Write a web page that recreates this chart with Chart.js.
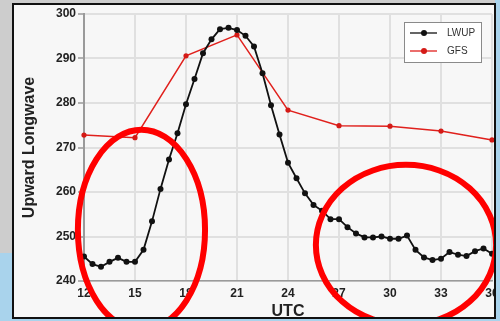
<!DOCTYPE html>
<html>
<head>
<meta charset="utf-8">
<script src="https://cdn.jsdelivr.net/npm/chart.js@4"></script>
<style>
  html, body { margin: 0; padding: 0; }
  body {
    width: 500px; height: 321px; overflow: hidden; position: relative;
    background: linear-gradient(to bottom, #cdcdcd 0, #cdcdcd 253px, #a9d3ec 253px);
  }
  #rightStrip { position: absolute; left: 495px; top: 0; width: 5px; height: 321px; background: #a9d3ec; }
  #frame {
    position: absolute; left: 12px; top: 3px; width: 484px; height: 316px;
    box-sizing: border-box; border: 2px solid #111; background: #f7f7f7; overflow: hidden;
  }
  #frame canvas { position: absolute; left: -14px; top: -5px; }
</style>
</head>
<body>
<div id="rightStrip"></div>
<div id="frame"><canvas id="lwCanvas" width="540" height="321"></canvas></div>
<script>
// Hours (UTC) for the observed series, every half hour
const lwupHours = [12, 12.5, 13, 13.5, 14, 14.5, 15, 15.5, 16, 16.5, 17, 17.5, 18, 18.5, 19, 19.5,
  20, 20.5, 21, 21.5, 22, 22.5, 23, 23.5, 24, 24.5, 25, 25.5, 26, 26.5, 27, 27.5, 28, 28.5,
  29, 29.5, 30, 30.5, 31, 31.5, 32, 32.5, 33, 33.5, 34, 34.5, 35, 35.5, 36];
const lwupValues = [245.5, 243.8, 243.2, 244.3, 245.2, 244.3, 244.3, 247.0, 253.4, 260.7, 267.3, 273.2,
  279.7, 285.4, 291.2, 294.3, 296.6, 296.9, 296.4, 295.1, 292.7, 286.7, 279.5, 272.9, 266.6, 263.1,
  259.7, 257.1, 255.8, 253.9, 253.9, 252.1, 250.7, 249.8, 249.8, 250.0, 249.5, 249.5, 250.2, 247.0,
  245.3, 244.7, 245.0, 246.5, 245.9, 245.6, 246.7, 247.3, 246.1];

// Model forecast, every 3 hours
const gfsHours = [12, 15, 18, 21, 24, 27, 30, 33, 36];
const gfsValues = [272.8, 272.2, 290.6, 295.3, 278.4, 274.9, 274.8, 273.7, 271.7];

const xTicks = [12, 15, 18, 21, 24, 27, 30, 33, 36];
const yTicks = [240, 250, 260, 270, 280, 290, 300];

// red circles drawn over the chart (centre and radii in data units)
const circles = [
  { x: 15.38, y: 251.5, rx: 3.74, ry: 22.5 },
  { x: 30.94, y: 248.1, rx: 5.3, ry: 18 }
];

const FONT = "'Liberation Sans', Arial, sans-serif";

const toPoints = (xs, ys) => xs.map((x, i) => ({ x: x, y: ys[i] }));

const boxLegend = {
  id: 'boxLegend',
  afterDatasetsDraw(chart) {
    const ctx = chart.ctx;
    const a = chart.chartArea;
    const bx = a.right - 88, by = a.top + 8;
    ctx.save();
    ctx.fillStyle = '#ffffff';
    ctx.strokeStyle = '#8a8a8a';
    ctx.lineWidth = 1;
    ctx.fillRect(bx, by, 77, 40);
    ctx.strokeRect(bx + 0.5, by + 0.5, 77, 40);
    chart.data.datasets.forEach((ds, i) => {
      const y = by + 11 + i * 18;
      ctx.strokeStyle = ds.borderColor;
      ctx.lineWidth = 1.3;
      ctx.beginPath();
      ctx.moveTo(bx + 6, y);
      ctx.lineTo(bx + 33, y);
      ctx.stroke();
      ctx.fillStyle = ds.pointBackgroundColor;
      ctx.beginPath();
      ctx.arc(bx + 20, y, 3, 0, Math.PI * 2);
      ctx.fill();
      ctx.fillStyle = '#333';
      ctx.font = '10px ' + FONT;
      ctx.textBaseline = 'middle';
      ctx.fillText(ds.label, bx + 43, y + 0.5);
    });
    ctx.restore();
  }
};

const redCircles = {
  id: 'redCircles',
  afterDraw(chart) {
    const ctx = chart.ctx;
    const xs = chart.scales.x, ys = chart.scales.y;
    ctx.save();
    ctx.strokeStyle = '#ff0000';
    ctx.lineWidth = 6;
    circles.forEach(c => {
      const cx = xs.getPixelForValue(c.x);
      const cy = ys.getPixelForValue(c.y);
      const rx = xs.getPixelForValue(c.x + c.rx) - cx;
      const ry = cy - ys.getPixelForValue(c.y + c.ry);
      ctx.beginPath();
      ctx.ellipse(cx, cy, rx, ry, 0, 0, Math.PI * 2);
      ctx.stroke();
    });
    ctx.restore();
  }
};

new Chart(document.getElementById('lwCanvas'), {
  type: 'line',
  data: {
    datasets: [
      {
        label: 'LWUP',
        data: toPoints(lwupHours, lwupValues),
        borderColor: '#111111',
        backgroundColor: '#111111',
        pointBackgroundColor: '#111111',
        pointBorderColor: '#111111',
        borderWidth: 1.8,
        pointRadius: 3,
        pointBorderWidth: 0,
        tension: 0,
        clip: false
      },
      {
        label: 'GFS',
        data: toPoints(gfsHours, gfsValues),
        borderColor: '#e0201c',
        backgroundColor: '#d41a16',
        pointBackgroundColor: '#d41a16',
        pointBorderColor: '#d41a16',
        borderWidth: 1.5,
        pointRadius: 2.6,
        pointBorderWidth: 0,
        tension: 0,
        clip: false
      }
    ]
  },
  options: {
    responsive: false,
    animation: false,
    layout: { padding: { left: 20, top: 14, right: 48, bottom: 0 } },
    plugins: { legend: { display: false }, tooltip: { enabled: false } },
    scales: {
      x: {
        type: 'linear',
        min: 12,
        max: 36,
        afterBuildTicks: s => { s.ticks = xTicks.map(v => ({ value: v })); },
        afterFit: s => { s.height = 40; },
        ticks: { color: '#222', padding: 5, font: { family: FONT, size: 12, weight: 'bold' } },
        grid: { color: '#e0e0e0', lineWidth: 2, drawTicks: false },
        border: { color: '#9a9a9a', width: 1.5 },
        title: { display: true, text: 'UTC', color: '#222', padding: 0, font: { family: FONT, size: 16, weight: 'bold' } }
      },
      y: {
        min: 240,
        max: 300,
        afterBuildTicks: s => { s.ticks = yTicks.map(v => ({ value: v })); },
        afterFit: s => { s.width = 64; },
        ticks: { color: '#222', padding: 2, font: { family: FONT, size: 12, weight: 'bold' } },
        grid: { color: '#e0e0e0', lineWidth: 2, tickLength: 6, tickColor: '#9a9a9a', tickWidth: 1.5 },
        border: { color: '#9a9a9a', width: 2 },
        title: { display: true, text: 'Upward Longwave', color: '#222', padding: 0, font: { family: FONT, size: 16, weight: 'bold' } }
      }
    }
  },
  plugins: [boxLegend, redCircles]
});
</script>
</body>
</html>
